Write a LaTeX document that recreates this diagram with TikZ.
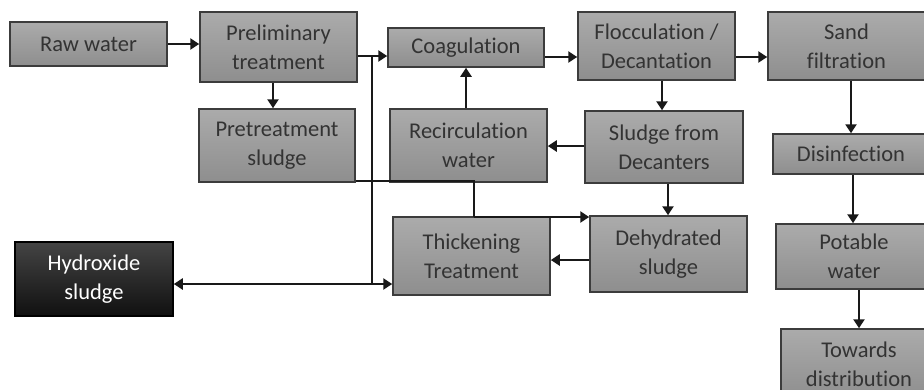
\documentclass[tikz,border=0pt]{standalone}
\usepackage{fontspec}
\setmainfont{Carlito}[RawFeature=-liga]
\usetikzlibrary{arrows.meta}
\definecolor{boxtop}{HTML}{ABABAB}
\definecolor{boxbot}{HTML}{8E8E8E}
\definecolor{boxline}{HTML}{3C3C3C}
\definecolor{boxtext}{HTML}{333333}
\definecolor{darktop}{HTML}{444444}
\definecolor{darkbot}{HTML}{101010}
\tikzset{
  box/.style={draw=boxline, line width=1.5pt, top color=boxtop, bottom color=boxbot,
    text=boxtext, align=center, inner sep=0pt, minimum width=157,
    font=\fontsize{22.5}{29}\selectfont},
  darkbox/.style={box, top color=darktop, bottom color=darkbot, draw=black, text=white},
  link/.style={line width=2.6pt, draw=black!90},
  arr/.style={link, -{Triangle[length=9pt,width=11pt]}},
}
\begin{document}
\begin{tikzpicture}[x=1pt,y=-1pt]
\useasboundingbox (0,0) rectangle (924,389);
\node[box, minimum height=44] (raw) at (88.5,44) {Raw water};
\node[box, minimum height=70] (pre) at (278.5,47) {Preliminary\\treatment};
\node[box, minimum width=156, minimum height=39] (coag) at (466,47.5) {Coagulation};
\node[box, minimum height=68] (floc) at (656.5,46) {Flocculation /\\Decantation};
\node[box, minimum height=68] (sand) at (846.5,46) {Sand\\filtration};
\node[box, minimum width=156, minimum height=73] (pts) at (277,145.5) {Pretreatment\\sludge};
\node[box, minimum height=73] (rec) at (468.5,145.5) {Recirculation\\water};
\node[box, minimum width=158, minimum height=72] (sdec) at (664,147) {Sludge from\\Decanters};
\node[box, minimum width=156, minimum height=40] (dis) at (851,154) {Disinfection};
\node[box, minimum height=78] (thick) at (471.5,256) {Thickening\\Treatment};
\node[box, minimum height=76] (dehy) at (668.5,254) {Dehydrated\\sludge};
\node[darkbox, minimum width=158, minimum height=74] (hyd) at (94,279) {Hydroxide\\sludge};
\node[box, minimum width=156, minimum height=65] (pot) at (854,256.5) {Potable\\water};
\node[box, minimum width=156, minimum height=70] (tow) at (859,364) {Towards\\distribution};
% helper coordinates
\coordinate (j1) at (372,56);
\coordinate (j2) at (372,284);
\coordinate (k1) at (474,181);
\coordinate (k2) at (474,217);
\coordinate (r1) at (0,57);
\coordinate (c273) at (273,0);
\coordinate (c662) at (662,0);
\coordinate (c466) at (466,0);
\coordinate (c668) at (668,0);
\coordinate (r146) at (0,146);
\coordinate (r260) at (0,260);
\coordinate (c851) at (851,0);
\coordinate (c853) at (853,0);
\coordinate (c859) at (859,0);
% connectors
\draw[arr] (raw.east) -- (raw.east -| pre.west);
\draw[link] (pre.east |- j1) -- (j1);
\draw[arr] (j1) -- (coag.west |- j1);
\draw[link] (j1) -- (j2);
\draw[arr] (j2) -- (hyd.east |- j2);
\draw[arr] (j2) -- (thick.west |- j2);
\draw[arr] (coag.east |- r1) -- (floc.west |- r1);
\draw[arr] (floc.east |- r1) -- (sand.west |- r1);
\draw[arr] (pre.south -| c273) -- (pts.north -| c273);
\draw[arr] (floc.south -| c662) -- (sdec.north -| c662);
\draw[arr] (sdec.west |- r146) -- (rec.east |- r146);
\draw[arr] (rec.north -| c466) -- (coag.south -| c466);
\draw[arr] (sdec.south -| c668) -- (dehy.north -| c668);
\draw[link] (pts.east |- k1) -- (k1) -- (k2);
\draw[arr] (k2) -- (dehy.west |- k2);
\draw[arr] (dehy.west |- r260) -- (thick.east |- r260);
\draw[arr] (sand.south -| c851) -- (dis.north -| c851);
\draw[arr] (dis.south -| c853) -- (pot.north -| c853);
\draw[arr] (pot.south -| c859) -- (tow.north -| c859);
\end{tikzpicture}
\end{document}
